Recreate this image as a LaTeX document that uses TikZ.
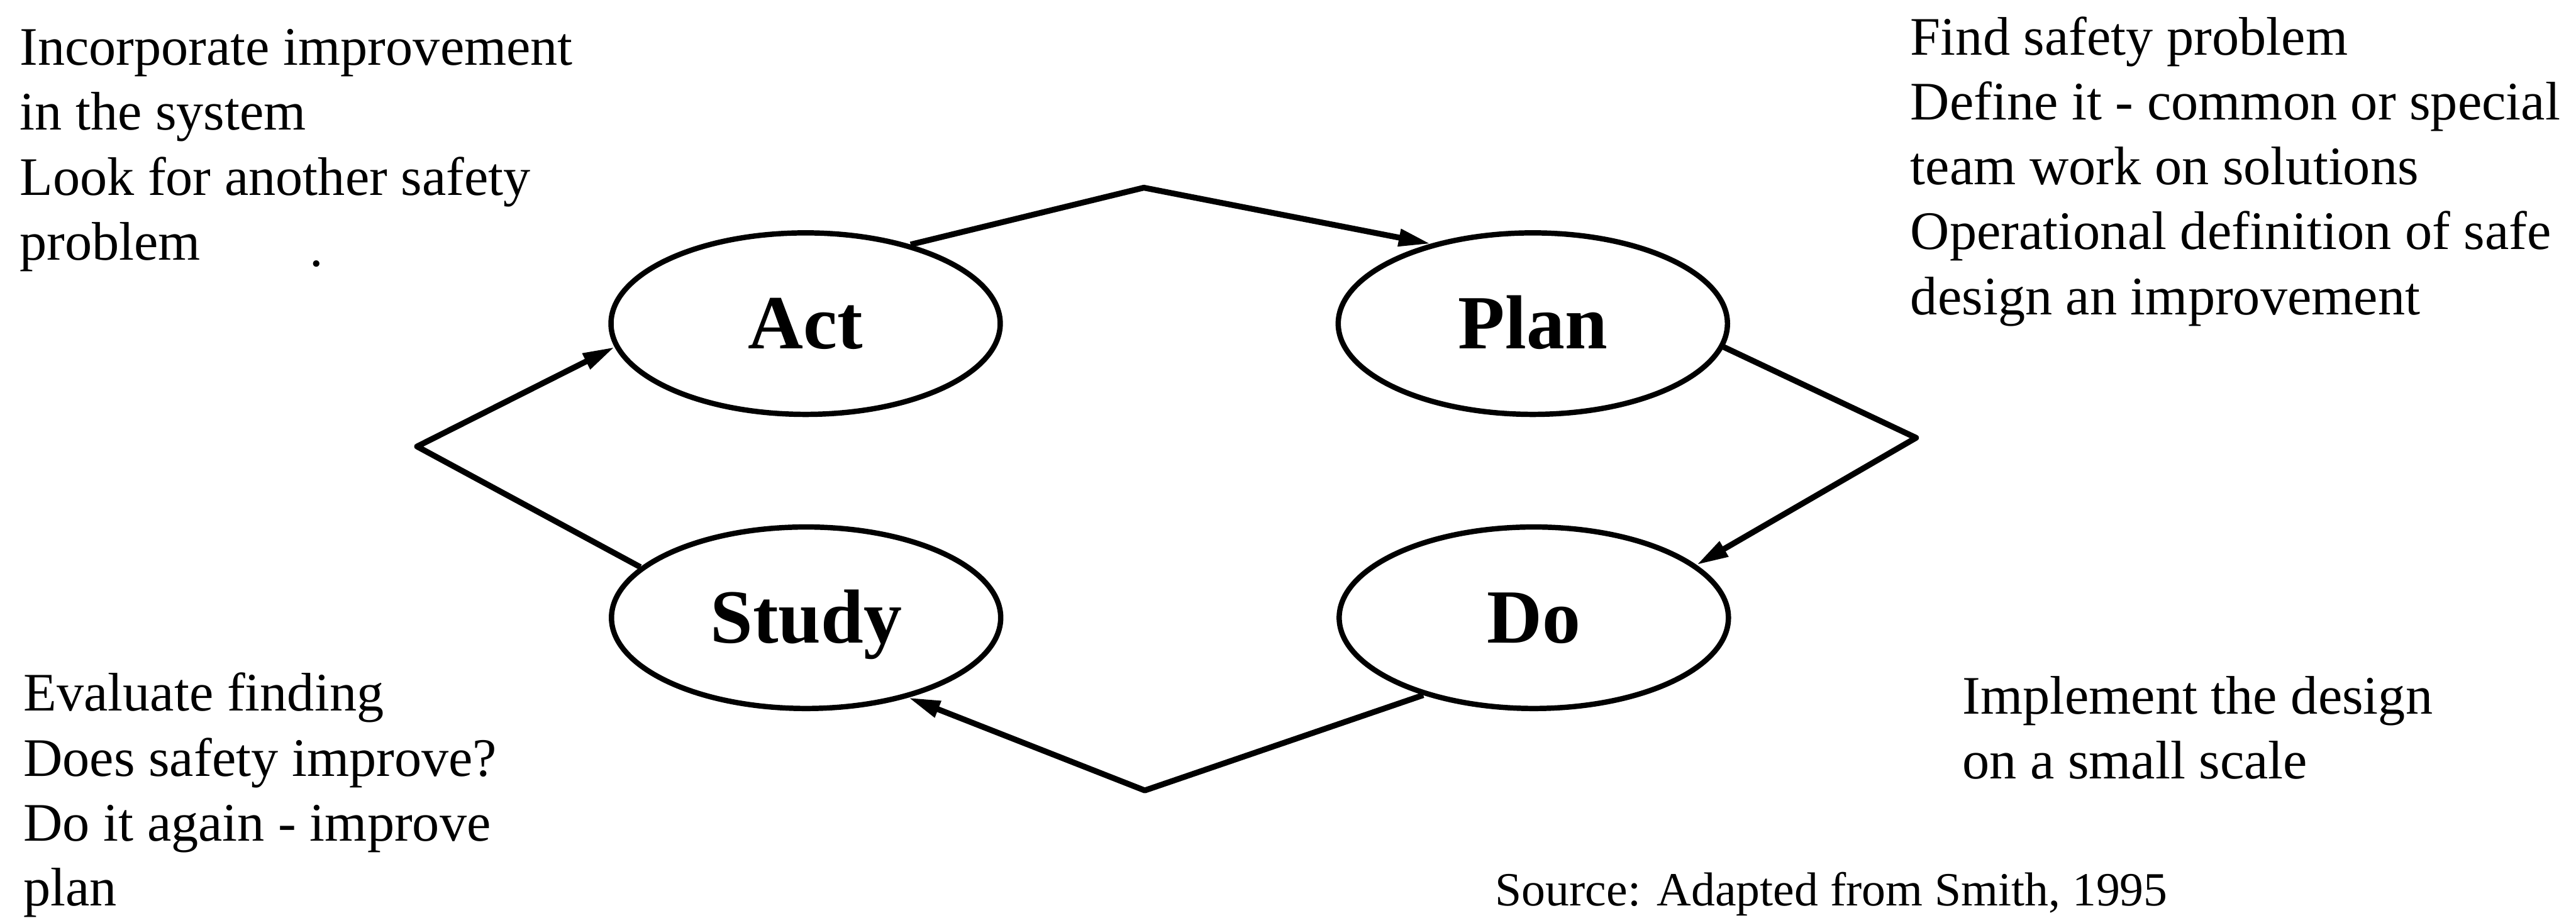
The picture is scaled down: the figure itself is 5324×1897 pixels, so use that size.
\documentclass[tikz,border=0pt]{standalone}
\usepackage{fontspec}
\setmainfont{Liberation Serif}
\usetikzlibrary{shapes.geometric,arrows.meta}

\begin{document}
\begin{tikzpicture}[x=0.01cm,y=-0.01cm,
  phase/.style={ellipse, draw, line width=0.11cm,
    minimum width=8.04cm, minimum height=3.75cm, inner sep=0pt,
    font=\fontsize{45}{45}\selectfont\bfseries,
    text height=29.7pt, text depth=0pt},
  flow/.style={line width=0.12cm, line join=round,
    -{Triangle[length=0.66cm,width=0.34cm]}},
  note/.style={anchor=base west, align=left, inner sep=0pt,
    font=\fontsize{31.9}{38.1}\selectfont},
  source/.style={anchor=base west, inner sep=0pt,
    font=\fontsize{28}{33}\selectfont}
]
\useasboundingbox (0,0) rectangle (5324,1897);

% the four phases of the cycle
\node[phase] (act)   at (1665,669)  {Act};
\node[phase] (plan)  at (3168,669)  {Plan};
\node[phase] (study) at (1666,1277) {Study};
\node[phase] (do)    at (3170,1277) {Do};

% corners of the connectors
\coordinate (topV)   at (2364,388);
\coordinate (rightV) at (3960,905);
\coordinate (botV)   at (2366,1634);
\coordinate (leftV)  at (862,923);

\draw[flow] (act.37)      -- (topV)   -- (plan.142);
\draw[flow] (plan.-7)     -- (rightV) -- (do.18);
\draw[flow] (do.215)      -- (botV)   -- (study.-38);
\draw[flow] (study.163.7) -- (leftV)  -- (act.187.6);

% descriptions of each phase (each block is placed by its last line)
\node[note] (actnote) at (40,537)
  {Incorporate improvement\\in the system\\Look for another safety\\problem};
\node[note] (dot) at (640,550) {.};
\node[note] (plannote) at (3948,650)
  {Find safety problem\\Define it - common or special\\team work on solutions\\Operational definition of safe\\design an improvement};
\node[note] (studynote) at (48,1872)
  {Evaluate finding\\Does safety improve?\\Do it again - improve\\plan};
\node[note] (donote) at (4055,1610)
  {Implement the design\\on a small scale};
\node[source] (src) at (3090,1872) {Source: Adapted from Smith, 1995};
\end{tikzpicture}
\end{document}
